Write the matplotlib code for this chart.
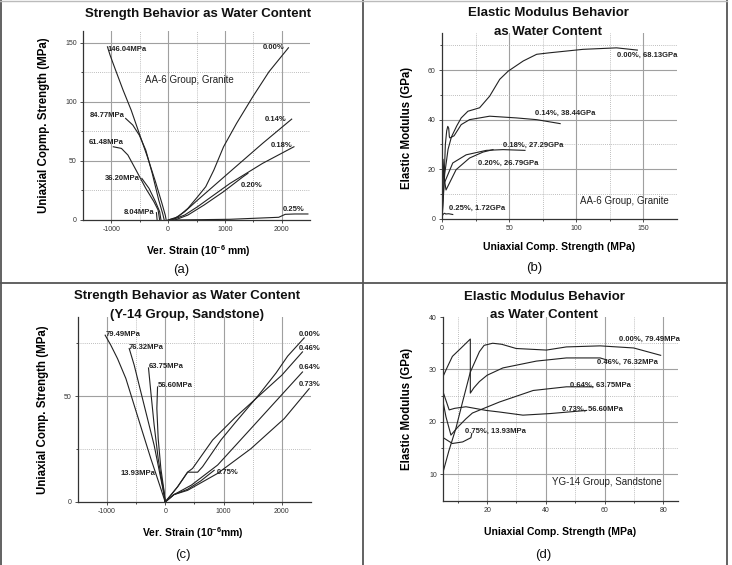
import matplotlib
matplotlib.use("Agg")
import matplotlib.pyplot as plt
from matplotlib.lines import Line2D

plt.rcParams["font.family"] = ["Liberation Sans", "DejaVu Sans"]
plt.rcParams["mathtext.default"] = "regular"
plt.rcParams["axes.unicode_minus"] = False

W, H = 732, 565
INK = "#222222"

# ---- (a) AA-6 granite, stress vs strain --------------------------------
a_lat = {
    "146.04MPa": ([-1069, -1023, -937, -794, -651, -509, -366, -223, -109, -51, -34],
                  [146.6, 139.6, 128.3, 110, 93, 73.3, 53.6, 32.4, 14.1, 4.2, 0]),
    "84.77MPa": ([-749, -623, -509, -394, -280, -166, -97, -69],
                 [86, 80.4, 71.9, 59.2, 39.5, 16.9, 5.6, 0]),
    "61.48MPa": ([-966, -823, -709, -566, -394, -251, -177, -149],
                 [62, 60.6, 55, 42.3, 26.8, 15.5, 8.5, 0]),
    "36.20MPa": ([-463, -337, -223, -149, -126], [35.2, 26.8, 15.5, 7, 0]),
    "8.04MPa": ([-206, -194], [6.2, 0]),
}
a_lat_lbl = {"146.04MPa": (-1069, 144.4), "84.77MPa": (-1377, 88.8),
             "61.48MPa": (-1394, 65.7), "36.20MPa": (-1109, 35.2),
             "8.04MPa": (-783, 6.2)}
a_ax = {
    "0.00%": ([0, 177, 349, 520, 663, 806, 977, 1206, 1491, 1777, 2120],
              [0, 2.8, 9.9, 19.7, 28.2, 42.3, 62, 81.8, 104.3, 125.5, 145.8]),
    "0.14%": ([0, 120, 291, 520, 1091, 1663, 2177], [0, 1.4, 7, 16.9, 40.9, 64.8, 85.4]),
    "0.18%": ([63, 291, 520, 1091, 1663, 2217], [0, 4.2, 11.3, 31, 47.9, 62]),
    "0.20%": ([120, 349, 634, 977, 1320, 1406], [0, 4.2, 12.7, 24, 36.6, 39.5]),
    "0.25%": ([63, 1091, 1949, 2063, 2234, 2463], [0, 0.6, 2.3, 4.8, 5.1, 5.1]),
}
a_ax_lbl = {"0.00%": (1663, 145.8), "0.14%": (1709, 85.4), "0.18%": (1806, 63.4),
            "0.20%": (1280, 29.6), "0.25%": (2017, 9)}

# ---- (b) AA-6 granite, modulus vs strength -----------------------------
b_curves = {
    "0.00%, 68.13GPa": ([0, 0.3, 2, 4.5, 7, 11, 14.3, 19.3, 28, 35.5, 43, 49.3, 60.5,
                         70.5, 80, 105, 130, 145.5],
                        [0, 2, 18, 28, 33, 37.5, 40.7, 43.4, 44.8, 49.5, 56.3, 59.6,
                         63.7, 66.4, 67, 68.4, 69, 68.1]),
    "0.14%, 38.44GPa": ([0, 1.5, 2.5, 3.5, 4.3, 5, 5.5, 6, 9, 14.3, 20.5, 35.5, 55.5, 70.5, 88],
                        [0, 15, 30, 35.5, 37.3, 36.5, 33, 32.6, 33.5, 38, 40, 41.4, 40.7, 40, 38.4]),
    "0.18%, 27.29GPa": ([0, 0.8, 1.75, 8, 18, 33, 45.5, 61.8],
                        [0, 24, 14.4, 22.5, 25.8, 27.6, 27.9, 27.6]),
    "0.20%, 26.79GPa": ([0, 0.6, 3, 10.5, 20.5, 30.5, 38],
                        [0, 20, 11.6, 19.8, 24.5, 26.9, 27.9]),
    "0.25%, 1.72GPa": ([0, 0.5, 1.25, 2, 2.75, 5, 8],
                       [0.2, 1.5, 2, 2.2, 1.9, 2, 1.7]),
}
b_lbl = {"0.00%, 68.13GPa": (130, 65.9), "0.14%, 38.44GPa": (69.25, 42.7),
         "0.18%, 27.29GPa": (45.5, 29.6), "0.20%, 26.79GPa": (26.75, 22.4),
         "0.25%, 1.72GPa": (5, 4.2)}

# ---- (c) Y-14 sandstone, stress vs strain ------------------------------
c_lat = {
    "79.49MPa": ([-1029, -931, -817, -674, -531, -389, -246, -131, -46, 0],
                 [78.9, 74.1, 67.8, 58.4, 45.7, 33.1, 20.5, 11, 3.9, 0]),
    "76.32MPa": ([-617, -531, -417, -303, -189, -86, -17, 0],
                 [72.6, 64.7, 52, 39.4, 26.8, 12.6, 3.2, 0]),
    "63.75MPa": ([-286, -246, -189, -120, -46, 0], [63.4, 52, 36.3, 20.5, 7.9, 0]),
    "56.60MPa": ([-131, -143, -120, -74, -17, 0], [54.4, 44.2, 30, 15.8, 4.7, 0]),
    "13.93MPa": ([-86, -29, 0], [13.9, 6.3, 0]),
}
c_lat_lbl = {"79.49MPa": (-1029, 79.3), "76.32MPa": (-629, 73), "63.75MPa": (-286, 63.9),
             "56.60MPa": (-131, 54.9), "13.93MPa": (-760, 13.4)}
c_ax = {
    "0.00%": ([0, 98, 213, 384, 556, 641, 955, 1200, 1600, 1900, 2100, 2383],
              [0, 3.3, 7.2, 14.1, 14.1, 16.7, 29.3, 37.5, 50.5, 61, 69, 77.6]),
    "0.46%": ([0, 98, 213, 384, 470, 813, 1200, 1600, 2000, 2354],
              [0, 3.3, 7.2, 14.1, 15.9, 29.3, 40, 50, 60, 71]),
    "0.64%": ([0, 150, 450, 900, 1469, 2040, 2354], [0, 3.5, 8, 17.5, 34.7, 52, 61.5]),
    "0.73%": ([0, 150, 383, 897, 1469, 2040, 2469], [0, 3.5, 5.5, 13.5, 25.2, 39.4, 53.6]),
    "0.75%": ([0, 150, 383, 611, 840], [0, 3.5, 6, 10, 15]),
}
c_ax_lbl = {"0.00%": (2286, 79.3), "0.46%": (2286, 72.6), "0.64%": (2297, 63.7),
            "0.73%": (2297, 55.5), "0.75%": (886, 13.9)}

# ---- (d) YG-14 sandstone, modulus vs strength --------------------------
d_curves = {
    "0.00%, 79.49MPa": ([4.8, 7, 9.4, 11.7, 14.3, 17.4, 19, 21.9, 25, 29.9, 40.2, 47, 58.5,
                         69.9, 79.1],
                        [10, 14.5, 18.8, 23.9, 29.5, 33.4, 34.6, 35, 34.8, 34, 33.7, 34.3,
                         34.5, 34.1, 32.7]),
    "0.46%, 76.32MPa": ([4.8, 6.5, 8.2, 11, 14.3, 14.3, 15.5, 17.4, 20, 25.4, 36.8, 47, 58.5, 60.8],
                        [28.4, 30.5, 32.5, 34, 35.8, 25.5, 26.5, 27.7, 28.9, 30.3, 31.6, 32.2,
                         32.2, 31.8]),
    "0.64%, 63.75MPa": ([4.8, 6, 7.7, 10, 12.8, 15, 24.2, 35.7, 47, 56],
                        [24.5, 21, 17.5, 19, 20.6, 21.7, 23.8, 26, 26.7, 26.7]),
    "0.73%, 56.60MPa": ([4.8, 7.1, 9, 12.8, 19.7, 24.2, 32.2, 41.4, 53.9],
                        [26.1, 22.3, 22.6, 22.9, 22.2, 21.9, 21.3, 21.6, 22.2]),
    "0.75%, 13.93MPa": ([4.8, 8.2, 11.7, 14.5, 14.8], [17.1, 15.9, 16.2, 17, 17.8]),
}
d_lbl = {"0.00%, 79.49MPa": (65, 35.8), "0.46%, 76.32MPa": (57.4, 31.3),
         "0.64%, 63.75MPa": (48.2, 27), "0.73%, 56.60MPa": (45.4, 22.5),
         "0.75%, 13.93MPa": (12.5, 18.2)}


def px_axes(fig, left, right, top, bottom):
    return fig.add_axes([left / W, 1 - bottom / H, (right - left) / W, (bottom - top) / H])


def frame(ax, xlim, ylim, xmaj, xmin, ymaj, ymin, xgrid, xdot, ygrid, ydot):
    ax.set_xlim(*xlim); ax.set_ylim(*ylim)
    for s in ("top", "right"):
        ax.spines[s].set_visible(False)
    for s in ("left", "bottom"):
        ax.spines[s].set_color("#333333"); ax.spines[s].set_linewidth(0.9)
    ax.set_xticks(xmaj); ax.set_xticks(xmin, minor=True)
    ax.set_yticks(ymaj); ax.set_yticks(ymin, minor=True)
    ax.tick_params(which="major", direction="out", length=2.5, width=0.6,
                   labelsize=5, colors="#333333", pad=2)
    ax.tick_params(which="minor", direction="out", length=1.5, width=0.5)
    for v in xgrid:
        ax.axvline(v, color="#a0a0a0", lw=0.8, zorder=0)
    for v in xdot:
        ax.axvline(v, color="#a8a8a8", lw=0.6, ls=(0, (1, 1.5)), zorder=0)
    for v in ygrid:
        ax.axhline(v, color="#a0a0a0", lw=0.8, zorder=0)
    for v in ydot:
        ax.axhline(v, color="#a8a8a8", lw=0.6, ls=(0, (1, 1.5)), zorder=0)


def draw(ax, curves, labels):
    for k, (x, y) in curves.items():
        ax.plot(x, y, color=INK, lw=0.8)
    for k, (x, y) in labels.items():
        ax.text(x, y, k, fontsize=5.5, weight="bold", color=INK, ha="left", va="center")


def ftext(x, y, s, **kw):
    fig.text(x / W, 1 - y / H, s, ha="center", va="center", color="#111111", **kw)


fig = plt.figure(figsize=(W / 100, H / 100), dpi=100)
LAB = 8.3

# (a)
ax = px_axes(fig, 83, 310, 31, 220)
frame(ax, (-1500, 2500), (0, 160), [-1000, 0, 1000, 2000], [-500, 500, 1500],
      [0, 50, 100, 150], [25, 75, 125],
      [-1000, 0, 1000, 2000], [-500, 500, 1500], [50, 100, 150], [25, 75, 125])
draw(ax, a_lat, a_lat_lbl)
draw(ax, a_ax, a_ax_lbl)
ax.text(377, 118.4, "AA-6 Group, Granite", fontsize=7, ha="center", va="center", color=INK)
ax.set_ylabel("Uniaxial Copmp. Strength (MPa)", fontsize=LAB, weight="bold")
ax.yaxis.set_label_coords(-0.145, 0.5)
ax.set_xlabel("Ver. Strain (10$^{-6}$ mm)", fontsize=7.5, weight="bold")
ax.xaxis.set_label_coords(0.507, -0.122)

# (b)
ax = px_axes(fig, 442, 677, 33, 218.7)
frame(ax, (0, 175), (0, 75), [0, 50, 100, 150], [25, 75, 125],
      [0, 20, 40, 60], [10, 30, 50, 70],
      [50, 100, 150], [25, 75, 125], [20, 40, 60], [10, 30, 50, 70])
draw(ax, b_curves, b_lbl)
ax.text(103, 7.2, "AA-6 Group, Granite", fontsize=7, ha="left", va="center", color=INK)
ax.set_ylabel("Elastic Modulus (GPa)", fontsize=LAB, weight="bold")
ax.yaxis.set_label_coords(-0.123, 0.49)
ax.set_xlabel("Uniaxial Comp. Strength (MPa)", fontsize=7.5, weight="bold")
ax.xaxis.set_label_coords(0.50, -0.125)

# (c)
ax = px_axes(fig, 77.7, 311, 317, 502)
frame(ax, (-1500, 2500), (0, 87.5), [-1000, 0, 1000, 2000], [-500, 500, 1500],
      [0, 50], [25, 75],
      [-1000, 0, 1000, 2000], [-500, 500, 1500], [50], [25, 75])
draw(ax, c_lat, c_lat_lbl)
draw(ax, c_ax, c_ax_lbl)
ax.set_ylabel("Uniaxial Comp. Strength (MPa)", fontsize=LAB, weight="bold")
ax.yaxis.set_label_coords(-0.123, 0.5)
ax.set_xlabel("Ver. Strain (10$^{-6}$mm)", fontsize=7.5, weight="bold")
ax.xaxis.set_label_coords(0.495, -0.124)

# (d)
ax = px_axes(fig, 443, 678, 317, 500.7)
frame(ax, (5, 85), (5, 40), [20, 40, 60, 80], [10, 30, 50, 70],
      [10, 20, 30, 40], [15, 25, 35],
      [20, 40, 60, 80], [10, 30, 50, 70], [10, 20, 30], [15, 25, 35])
draw(ax, d_curves, d_lbl)
ax.text(42, 8.5, "YG-14 Group, Sandstone", fontsize=7, ha="left", va="center", color=INK)
ax.set_ylabel("Elastic Modulus (GPa)", fontsize=LAB, weight="bold")
ax.yaxis.set_label_coords(-0.128, 0.5)
ax.set_xlabel("Uniaxial Comp. Strength (MPa)", fontsize=7.5, weight="bold")
ax.xaxis.set_label_coords(0.50, -0.143)

# titles and captions
ftext(198, 14, "Strength Behavior as Water Content", fontsize=9.5, weight="bold")
ftext(548, 13, "Elastic Modulus Behavior", fontsize=9.5, weight="bold")
ftext(548, 32, "as Water Content", fontsize=9.5, weight="bold")
ftext(187, 296, "Strength Behavior as Water Content", fontsize=9.5, weight="bold")
ftext(187, 315, "(Y-14 Group, Sandstone)", fontsize=9.5, weight="bold")
ftext(544, 297, "Elastic Modulus Behavior", fontsize=9.5, weight="bold")
ftext(544, 315, "as Water Content", fontsize=9.5, weight="bold")
ftext(181, 270, "(a)", fontsize=9.5)
ftext(534, 268, "(b)", fontsize=9.5)
ftext(183, 555, "(c)", fontsize=9.5)
ftext(543, 555, "(d)", fontsize=9.5)

# table borders
for xs, ys in [((1, 1), (0, H)), ((363, 363), (0, H)), ((727, 727), (0, H)),
               ((0, 727), (283, 283))]:
    fig.add_artist(Line2D([x / W for x in xs], [1 - y / H for y in ys],
                          color="#555555", lw=1.3))
fig.add_artist(Line2D([0, 727 / W], [1 - 0.5 / H] * 2, color="#bbbbbb", lw=1))

fig.savefig("out.png", dpi=100)
